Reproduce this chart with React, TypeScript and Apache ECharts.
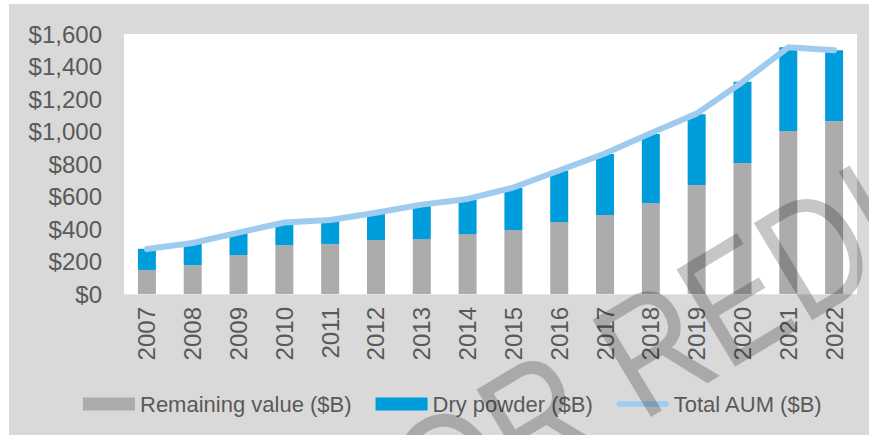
import React, { useEffect, useRef } from "react";
import * as echarts from "echarts";

const years = ["2007", "2008", "2009", "2010", "2011", "2012", "2013", "2014", "2015", "2016", "2017", "2018", "2019", "2020", "2021", "2022"];
const remainingValue = [148, 178, 240, 301, 308, 332, 338, 369, 394, 443, 486, 560, 671, 806, 1003, 1065];
const dryPowder = [130, 136, 135, 135, 145, 165, 210, 215, 260, 315, 375, 425, 435, 500, 515, 435];
const totalAum = [277, 314, 378, 440, 455, 500, 550, 585, 655, 760, 865, 990, 1110, 1305, 1518, 1500];
const seriesNames = ["Remaining value ($B)", "Dry powder ($B)", "Total AUM ($B)"];
const watermark = "NOT FOR REDISTRIBUTION";

const FONT = "'Liberation Sans', Arial, sans-serif";
const TEXT = "#595959";
const GRAY = "#abacab";
const BLUE = "#009ddc";
const LIGHT = "#9ecbee";

export default function App() {
  const ref = useRef<HTMLDivElement>(null);
  useEffect(() => {
    if (!ref.current) return;
    const chart = echarts.init(ref.current, null, { renderer: "svg" });
    chart.setOption({
      animation: false,
      backgroundColor: "#d9d9d9",
      textStyle: { fontFamily: FONT },
      grid: {
        left: 115,
        right: 12,
        top: 30,
        bottom: 141,
        show: true,
        backgroundColor: "#ffffff",
        borderWidth: 0,
      },
      legend: {
        left: 69,
        top: 384,
        itemWidth: 52,
        itemHeight: 13,
        itemGap: 24,
        textStyle: { fontSize: 22, color: TEXT, fontFamily: FONT },
        data: [
          { name: seriesNames[0], icon: "rect" },
          { name: seriesNames[1], icon: "rect" },
          {
            name: seriesNames[2],
            icon: "path://M3,0 L53,0 A3,3 0 0 1 53,6 L3,6 A3,3 0 0 1 3,0 Z",
            itemStyle: { color: LIGHT, borderWidth: 0 },
          },
        ],
      },
      xAxis: {
        type: "category",
        data: years,
        axisLine: { show: true, lineStyle: { color: "#e6e6e6", width: 1 } },
        axisTick: { show: false },
        axisLabel: { rotate: 90, fontSize: 24, color: TEXT, margin: 13, fontFamily: FONT },
      },
      yAxis: {
        type: "value",
        min: 0,
        max: 1600,
        interval: 200,
        splitLine: { show: false },
        axisLine: { show: false },
        axisTick: { show: false },
        axisLabel: {
          fontSize: 24,
          color: TEXT,
          margin: 22,
          fontFamily: FONT,
          formatter: (v: number) => "$" + v.toLocaleString("en-US"),
        },
      },
      series: [
        {
          name: seriesNames[0],
          type: "bar",
          stack: "aum",
          barWidth: 18,
          itemStyle: { color: GRAY },
          data: remainingValue,
        },
        {
          name: seriesNames[1],
          type: "bar",
          stack: "aum",
          barWidth: 18,
          itemStyle: { color: BLUE },
          data: dryPowder,
        },
        {
          name: seriesNames[2],
          type: "line",
          symbol: "none",
          showSymbol: false,
          lineStyle: { color: LIGHT, width: 6, cap: "round", join: "round" },
          itemStyle: { color: LIGHT },
          data: totalAum,
          z: 5,
        },
      ],
      graphic: [
        {
          type: "text",
          x: 51,
          y: 701,
          rotation: (31 * Math.PI) / 180,
          scaleX: 0.82,
          z: 100,
          silent: true,
          style: {
            text: watermark,
            fontSize: 165,
            fontFamily: FONT,
            fill: "rgba(15,15,15,0.24)",
            align: "left",
            verticalAlign: "middle",
          },
        },
      ],
    });
    return () => chart.dispose();
  }, []);
  return (
    <div style={{ position: "fixed", left: 0, top: 0, width: 869, height: 435, background: "#ffffff", overflow: "hidden" }}>
      <div ref={ref} style={{ position: "absolute", left: 9, top: 4, width: 860, height: 431 }} />
    </div>
  );
}
